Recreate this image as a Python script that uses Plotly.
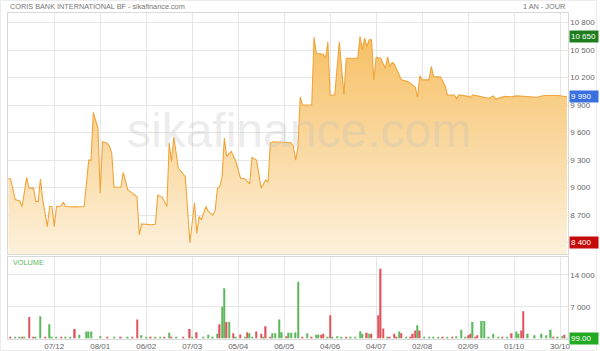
import plotly.graph_objects as go

W, H = 600, 351

# ---------------- data ----------------
price_idx = [0, 1, 2, 3, 5, 6, 8, 9, 11, 12,
             13, 14, 15, 17, 18, 19, 20, 21, 23, 24,
             25, 29, 33, 35, 36, 37, 39, 40, 41, 43,
             44, 45, 46, 49, 50, 52, 54, 56, 57, 58,
             62, 64, 65, 67, 69, 70, 71, 72, 74, 77,
             79, 81, 82, 83, 84, 86, 87, 89, 90, 91,
             92, 93, 94, 95, 97, 99, 101, 103, 105, 106,
             108, 109, 110, 112, 113, 114, 115, 123, 124, 125,
             126, 127, 128, 132, 133, 134, 137, 138, 139, 140,
             142, 144, 146, 147, 152, 153, 154, 155, 156, 157,
             158, 159, 160, 162, 164, 165, 166, 167, 168, 169,
             171, 174, 177, 178, 179, 180, 183, 184, 185, 188,
             190, 191, 194, 195, 196, 200, 201, 202, 205, 209,
             211, 212, 216, 219, 221, 227, 230, 233, 239, 243]

price_val = [9100, 9095, 8990, 8870, 8855, 8795, 9110, 8995, 8995, 8850,
             8850, 9095, 8870, 8575, 8795, 8795, 8575, 8795, 8800, 8840,
             8795, 8790, 8795, 9300, 9300, 9820, 9650, 8940, 9500, 9485,
             9450, 9380, 9005, 9005, 9165, 8975, 8940, 8900, 8485, 8605,
             8595, 8600, 8920, 8895, 8795, 9485, 9285, 9550, 9210, 9120,
             8400, 8835, 8500, 8685, 8650, 8795, 8740, 8700, 8755, 8995,
             9010, 9120, 9540, 9340, 9395, 9285, 9105, 9095, 9040, 9330,
             9300, 9155, 8995, 9085, 9060, 9485, 9500, 9490, 9450, 9300,
             9445, 9990, 9900, 9900, 10640, 10465, 10455, 10410, 10590, 10010,
             10010, 10590, 10010, 10410, 10410, 10650, 10500, 10630, 10540, 10610,
             10610, 10170, 10420, 10410, 10300, 10425, 10320, 10365, 10345, 10285,
             10175, 10155, 10095, 9985, 10220, 10175, 10175, 10320, 10210, 10205,
             10110, 10010, 10010, 9970, 10010, 9995, 9985, 10010, 9995, 9975,
             10000, 9965, 9995, 9990, 10000, 9995, 9985, 10005, 10005, 9990]

vol_idx = [1, 3, 5, 6, 7, 9, 11, 12, 14, 16,
           18, 19, 21, 23, 25, 27, 29, 31, 34, 35,
           36, 40, 43, 46, 49, 52, 54, 56, 58, 60,
           62, 64, 66, 68, 70, 71, 73, 76, 79, 80,
           82, 85, 87, 89, 91, 92, 93, 94, 95, 96,
           98, 99, 101, 103, 104, 105, 106, 108, 110, 111,
           112, 114, 115, 116, 118, 119, 121, 122, 123, 125,
           126, 128, 130, 132, 134, 135, 136, 137, 139, 140,
           141, 143, 145, 147, 149, 151, 153, 154, 156, 157,
           158, 161, 162, 163, 165, 166, 168, 169, 170, 171,
           173, 175, 176, 177, 178, 179, 181, 183, 185, 187,
           189, 191, 193, 195, 197, 199, 200, 201, 202, 203,
           204, 206, 207, 209, 211, 213, 215, 217, 219, 221,
           222, 223, 224, 226, 229, 232, 234, 236, 237, 239,
           241, 242, 243]

vol_val = [200, 250, 300, 200, 400, 4730, 250, 300, 4890, 250,
           3110, 350, 250, 200, 250, 300, 2070, 820, 1560, 1560,
           1560, 500, 200, 250, 200, 200, 250, 4160, 730, 300,
           250, 250, 300, 250, 1270, 300, 250, 300, 2070, 350,
           1400, 200, 820, 250, 1040, 3110, 6960, 11040, 3620, 3620,
           1180, 300, 900, 300, 1400, 1180, 400, 1560, 1040, 300,
           2670, 400, 1180, 1180, 4160, 1400, 500, 1270, 1270, 1300,
           12510, 300, 1180, 300, 800, 800, 800, 1040, 300, 5110,
           400, 500, 400, 300, 300, 300, 1620, 1040, 1250, 1040,
           1040, 5110, 15330, 2180, 300, 300, 1040, 400, 1560, 1180,
           300, 400, 1040, 1780, 2890, 1780, 300, 400, 300, 350,
           300, 350, 300, 500, 1930, 300, 700, 1040, 3630, 300,
           700, 3850, 3850, 400, 1040, 300, 300, 300, 1180, 1560,
           1040, 1780, 6000, 1040, 700, 1040, 700, 1930, 400, 300,
           500, 820, 99]

vol_dir = ['d', 'u', 'u', 'd', 'u', 'd', 'd', 'u', 'u', 'd',
           'u', 'u', 'u', 'd', 'u', 'u', 'd', 'u', 'u', 'u',
           'u', 'u', 'd', 'u', 'd', 'u', 'd', 'd', 'u', 'u',
           'd', 'u', 'u', 'd', 'u', 'd', 'u', 'd', 'd', 'u',
           'd', 'u', 'u', 'u', 'u', 'd', 'u', 'u', 'd', 'u',
           'd', 'u', 'd', 'u', 'd', 'u', 'u', 'd', 'd', 'u',
           'd', 'd', 'u', 'u', 'u', 'u', 'd', 'u', 'u', 'u',
           'u', 'd', 'u', 'd', 'u', 'u', 'd', 'd', 'u', 'd',
           'u', 'u', 'u', 'd', 'u', 'u', 'u', 'u', 'd', 'u',
           'd', 'd', 'd', 'd', 'u', 'd', 'd', 'd', 'u', 'd',
           'u', 'd', 'd', 'd', 'u', 'd', 'u', 'u', 'u', 'u',
           'd', 'u', 'd', 'u', 'u', 'u', 'd', 'd', 'u', 'd',
           'd', 'u', 'u', 'u', 'u', 'u', 'd', 'u', 'd', 'u',
           'u', 'd', 'd', 'u', 'u', 'u', 'u', 'u', 'd', 'u',
           'u', 'd', 'u']

x_tick_idx = [20, 40, 60, 80, 100, 120, 140, 160, 180, 200, 220, 240]
x_tick_labels = ['07/12', '08/01', '06/02', '07/03', '05/04', '06/05',
                 '04/06', '04/07', '02/08', '02/09', '01/10', '30/10']
price_ticks = [8400, 8700, 9000, 9300, 9600, 9900, 10200, 10500, 10800]
vol_ticks = [0, 7000, 14000]

title_text = 'CORIS BANK INTERNATIONAL BF - sikafinance.com'
period_text = '1 AN - JOUR'
period_high = 10650
period_low = 8400
last_price = 9990
last_volume = 99

assert len(price_idx) == len(price_val)
assert len(vol_idx) == len(vol_val) == len(vol_dir)


def fmt(v):
    return f'{v:,}'.replace(',', ' ')


# ---------------- style ----------------
FONT = 'Liberation Sans, Arial, sans-serif'
GRID = '#e6e6e6'
FRAME = '#d9d9d9'
TXT = '#666666'
UP = '#5cb85c'
DOWN = '#e0525c'

x0, x1 = 8.3 / W, 570.5 / W
py0, py1 = (H - 254) / H, (H - 13.3) / H
vy0, vy1 = (H - 338.5) / H, (H - 256.7) / H

fig = go.Figure()
fig.add_trace(go.Scatter(
    x=price_idx, y=price_val, mode='lines',
    line=dict(color='#f0a43a', width=1.1),
    fill='tozeroy',
    fillgradient=dict(type='vertical',
                      colorscale=[[0, 'rgb(253,241,220)'], [1, 'rgb(246,192,100)']],
                      start=8277, stop=10650),
    xaxis='x', yaxis='y', hoverinfo='skip'))

fig.add_trace(go.Bar(
    x=vol_idx, y=vol_val, width=0.6,
    marker=dict(color=[UP if d == 'u' else DOWN for d in vol_dir], line=dict(width=0)),
    xaxis='x2', yaxis='y2', hoverinfo='skip'))

common_x = dict(range=[0, 243.3], tickvals=x_tick_idx, showgrid=True, gridcolor=GRID,
                gridwidth=1, zeroline=False, showline=True, mirror=True,
                linecolor=FRAME, linewidth=1, ticks='', domain=[x0, x1], fixedrange=True)

fig.update_layout(
    width=W, height=H,
    margin=dict(l=0, r=0, t=0, b=0),
    paper_bgcolor='white', plot_bgcolor='white',
    showlegend=False,
    font=dict(family=FONT, size=8, color=TXT),
    xaxis=dict(**common_x, anchor='y', showticklabels=False),
    xaxis2=dict(**common_x, anchor='y2', showticklabels=True,
                ticktext=x_tick_labels, tickfont=dict(size=8, color=TXT)),
    yaxis=dict(domain=[py0, py1], range=[8277, 10900], side='right', anchor='x',
               tickvals=price_ticks, ticktext=[fmt(v) for v in price_ticks],
               showgrid=True, gridcolor=GRID, zeroline=False, showline=True,
               mirror=True, linecolor=FRAME, ticks='', tickfont=dict(size=8, color=TXT),
               fixedrange=True),
    yaxis2=dict(domain=[vy0, vy1], range=[0, 18000], side='right', anchor='x2',
                tickvals=vol_ticks, ticktext=['' if v == 0 else fmt(v) for v in vol_ticks],
                showgrid=True, gridcolor=GRID, zeroline=False, showline=True,
                mirror=True, linecolor=FRAME, ticks='', tickfont=dict(size=8, color=TXT),
                fixedrange=True),
)

ann = []
# watermark
ann.append(dict(text='sikafinance.com', xref='paper', yref='paper', x=300 / W, y=(H - 130) / H,
                xanchor='center', yanchor='middle', showarrow=False,
                font=dict(family=FONT, size=48, color='rgba(190,190,190,0.3)')))
# title
ann.append(dict(text=title_text, xref='paper', yref='paper', x=8 / W, y=(H - 6) / H,
                xanchor='left', yanchor='middle', showarrow=False,
                font=dict(family=FONT, size=7.3, color='#777777')))
ann.append(dict(text=period_text, xref='paper', yref='paper', x=569.5 / W, y=(H - 6) / H,
                xanchor='right', yanchor='middle', showarrow=False,
                font=dict(family=FONT, size=7.3, color='#777777')))
# volume label
ann.append(dict(text='VOLUME', xref='paper', yref='paper', x=11 / W, y=(H - 262.5) / H,
                xanchor='left', yanchor='middle', showarrow=False,
                font=dict(family=FONT, size=7.3, color=UP)))


def badge(val, txt, color, yref):
    return dict(text=txt, xref='paper', yref=yref, x=572 / W, y=val,
                xanchor='left', yanchor='middle', showarrow=False, align='left',
                bgcolor=color, borderpad=1, width=26,
                font=dict(family=FONT, size=8, color='white'))


ann.append(badge(period_high, fmt(period_high), '#1e7e1e', 'y'))
ann.append(badge(last_price, fmt(last_price), '#3a6fe0', 'y'))
ann.append(badge(period_low, fmt(period_low), '#c40a0a', 'y'))
ann.append(badge(last_volume, f'{last_volume:.2f}', '#22aa22', 'y2'))

fig.update_layout(annotations=ann)
fig.add_shape(type='rect', xref='paper', yref='paper', x0=0.5 / W, x1=1 - 0.5 / W,
              y0=0.5 / H, y1=1 - 0.5 / H, line=dict(color='#ececec', width=1), layer='below')

fig.write_html('out.html')
